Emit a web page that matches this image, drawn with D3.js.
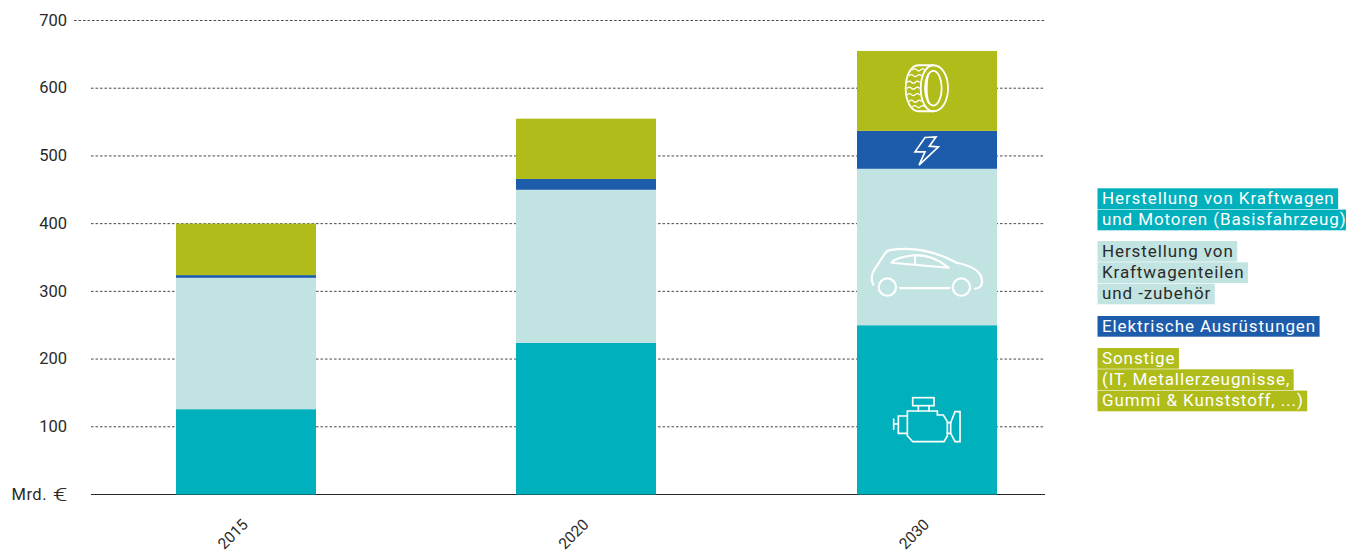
<!DOCTYPE html>
<html><head><meta charset="utf-8">
<script src="https://cdn.jsdelivr.net/npm/d3@7/dist/d3.min.js"></script>
<style>
html,body{margin:0;padding:0;background:#fff}
svg{display:block}
text{font-family:Roboto,"Noto Sans",sans-serif;fill:#2b2a29;font-size:16.5px;font-weight:400}
.lg text{font-size:17px;letter-spacing:.9px;font-weight:400}
</style></head><body>
<svg id="c" width="1346" height="553"></svg>
<script>
const years = ["2015","2020","2030"];
const seriesNames = ["Basis","Teile","Elektrik","Sonstige"];
const basis = [126,224,250];
const teile = [194,226,231];
const elektrik = [4,16,56];
const sonstige = [76,89,118];
const tickValues = [100,200,300,400,500,600,700];
const colors = ["#00b0bd","#c1e4e2","#1d5cab","#b0bc1a"];
const legendGroups = [
  {color:"#00b0bd",ink:"#fff",lines:["Herstellung von Kraftwagen","und Motoren (Basisfahrzeug)"]},
  {color:"#c1e4e2",ink:"#2b2a29",lines:["Herstellung von","Kraftwagenteilen","und -zubehör"]},
  {color:"#1d5cab",ink:"#fff",lines:["Elektrische Ausrüstungen"]},
  {color:"#b0bc1a",ink:"#fff",lines:["Sonstige","(IT, Metallerzeugnisse,","Gummi & Kunststoff, ...)"]}
];
const svg = d3.select("#c");
const y = d3.scaleLinear().domain([0,700]).range([494.5,20.5]);
const x = d3.scaleBand().domain(years).range([175.8,997]).paddingInner(0.5891).paddingOuter(0);
const barW = 140;

// grid
svg.append("g").selectAll("line").data(tickValues).join("line")
  .attr("x1",d=>d===700?74:91).attr("x2",1045)
  .attr("y1",d=>y(d)).attr("y2",d=>y(d))
  .attr("stroke","#4a4a4a").attr("stroke-width",1).attr("stroke-dasharray","2.6 1.9");

// baseline
svg.append("line").attr("x1",91).attr("x2",1045).attr("y1",494.5).attr("y2",494.5).attr("stroke","#2b2a29");

// stacks
const rows = years.map((yr,i)=>({year:yr,Basis:basis[i],Teile:teile[i],Elektrik:elektrik[i],Sonstige:sonstige[i]}));
const stacked = d3.stack().keys(seriesNames)(rows);
svg.append("g").selectAll("g").data(stacked).join("g").attr("fill",(d,i)=>colors[i])
  .selectAll("rect").data(d=>d).join("rect")
  .attr("x",d=>Math.round(x(d.data.year))).attr("width",barW)
  .attr("y",d=>y(d[1])).attr("height",d=>y(d[0])-y(d[1]));

// axes
const yAxis = d3.axisLeft(y).tickValues(tickValues).tickSize(0).tickPadding(0);
const gy = svg.append("g").attr("transform","translate(67,0)").call(yAxis);
gy.select(".domain").remove();
gy.selectAll("text").attr("dy","0.32em").attr("y",-0.5);
const xAxis = d3.axisBottom(x).tickSize(0).tickPadding(0);
const gx = svg.append("g").attr("transform","translate(0,494.5)").call(xAxis);
gx.select(".domain").remove();
gx.selectAll("text").attr("text-anchor","middle").attr("dy","0.35em").attr("y",0)
  .style("font-size","15.5px")
  .attr("transform","translate(-13,39.5) rotate(-45)");
svg.append("text").attr("x",47).attr("y",500).attr("text-anchor","end").style("letter-spacing",".5px").text("Mrd.");
svg.append("text").attr("text-anchor","end").attr("transform","translate(67.5,500.5) scale(1.4,1)")
  .style("font-size","19px").style("font-weight",300).text("€");

// icons (local drawing coordinates, placed through the scales)
const cx = x("2030")+x.bandwidth()/2;
function icon(val,cxz,cyz,draw){
  const g = svg.append("g").attr("fill","none").attr("stroke","#fff").attr("stroke-width",5.5)
    .attr("stroke-linejoin","round").attr("stroke-linecap","round")
    .attr("transform",`translate(${cx},${y(val)}) scale(0.3333) translate(${-cxz},${-cyz})`);
  draw(g);
}
icon(600,231,143,g=>{
  g.append("path").attr("d","M205,74 H250 C276,74 294,105 294,143 C294,181 276,212 250,212 H205 C183,212 167,181 167,143 C167,105 183,74 205,74");
  g.append("ellipse").attr("cx",250).attr("cy",143).attr("rx",25).attr("ry",52);
  g.append("path").attr("d","M250,74 C228,74 212,105 212,143 C212,181 228,212 250,212");
  g.append("path").attr("d","M236,100 C228,120 228,166 236,186");
  [88,105,125,143,162,182,198].forEach((v,i)=>{
    const w = (i===0||i===6)?16:(i===1||i===5)?6:0;
    g.append("path").attr("stroke-width",3.5).attr("d",`M${172+w},${v} q6,-6 12,0 t12,0 t12,0`);
  });
});
icon(507,231,333,g=>{
  g.attr("stroke-width",5).attr("stroke-linejoin","miter");
  g.append("path").attr("d","M225,292 L258,290 L238,318 L265,320 L207,375 L225,335 L195,335 Z");
});
icon(328,231,125,g=>{
  g.attr("stroke-width",6.5);
  g.append("path").attr("d","M70,162 C62,145 64,130 74,115 L105,68 Q110,60 120,58 C170,50 235,50 320,96 C360,104 396,120 396,152 Q396,172 375,174");
  g.append("path").attr("d","M150,172 H298");
  g.append("circle").attr("cx",112).attr("cy",169).attr("r",26);
  g.append("circle").attr("cx",334).attr("cy",169).attr("r",26);
  g.append("path").attr("d","M125,95 Q135,80 195,73 C240,73 270,88 296,111 L125,96 Z");
  g.append("path").attr("d","M195,73 V102");
});
icon(110,231,570,g=>{
  g.attr("stroke-linejoin","miter").attr("stroke-width",5);
  g.append("rect").attr("x",188).attr("y",503).attr("width",64).attr("height",24);
  g.append("path").attr("d","M205,527 V543 M237,527 V543");
  g.append("path").attr("d","M172,543 H262 V555 H280 L292,575 V618 L282,635 H188 L172,617 Z");
  g.append("path").attr("d","M172,558 H145 V610 H172");
  g.append("path").attr("d","M131,567 V598 M131,582 H145");
  g.append("path").attr("d","M292,578 H302 V610 H292");
  g.append("path").attr("d","M302,578 L315,545 H330 V635 H315 L302,610");
});

// legend
const legendTops = [188.3,241,316,348];
const lineH = 21.3;
const lg = svg.append("g").attr("class","lg");
legendGroups.forEach((grp,gi)=>{
  grp.lines.forEach((ln,li)=>{
    const top = legendTops[gi]+li*lineH;
    const rect = lg.append("rect").attr("x",1097.5).attr("y",top).attr("height",lineH-0.6).attr("fill",grp.color);
    const t = lg.append("text").attr("x",1102).attr("y",top+15.7).style("fill",grp.ink).text(ln);
    rect.attr("width",Math.min(t.node().getComputedTextLength()+8,1346-1097.5));
  });
});
</script>
</body></html>
